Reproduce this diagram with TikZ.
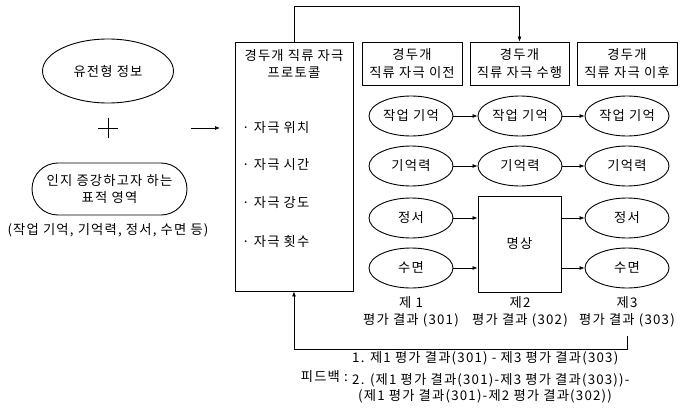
\documentclass[tikz,border=0pt]{standalone}
\usepackage{fontspec}
\setmainfont[LetterSpace=9]{Noto Sans CJK KR}
\usetikzlibrary{shapes.geometric,arrows.meta}
\begin{document}
\begin{tikzpicture}[x=1pt,y=-1pt,
  every node/.style={font=\fontsize{13.3}{17.5}\selectfont, inner sep=0pt},
  shp/.style={draw, line width=0.9pt},
  oval/.style={shp, ellipse, minimum width=84, minimum height=40},
  hbox/.style={shp, rectangle, minimum height=43, align=center},
  conn/.style={line width=0.7pt},
  arr/.style={conn, -{Latex[length=5pt,width=4pt]}},
  lab/.style={align=center}]
\useasboundingbox (0,0) rectangle (682,415);
% left part
\node[shp, ellipse, minimum width=131, minimum height=64] (gene) at (108,71) {유전형 정보};
\draw[line width=0.8pt] (98,128) -- (118,128) (108,118) -- (108,138);
\node[shp, rectangle, rounded corners=26, minimum width=155, minimum height=52, align=center] (target) at (109.5,189) {인지 증강하고자 하는\\표적 영역};
\node (targetsub) at (108,230) {(작업 기억, 기억력, 정서, 수면 등)};
\coordinate (a0) at (191,128);
\coordinate (a1) at (220,128);
\draw[arr] (a0) -- (a1);
% protocol box
\node[shp, rectangle, minimum width=118, minimum height=249] (proto) at (294,166.5) {};
\node[align=center] (ptitle) at (294,64) {경두개 직류 자극\\프로토콜};
\node[anchor=west] (p1) at (242,128) {· 자극 위치};
\node[anchor=west] (p2) at (242,165) {· 자극 시간};
\node[anchor=west] (p3) at (242,203) {· 자극 강도};
\node[anchor=west] (p4) at (242,241) {· 자극 횟수};
% headers
\node[hbox, minimum width=100] (h1) at (412,63.5) {경두개\\직류 자극 이전};
\node[hbox, minimum width=99] (h2) at (519.5,63.5) {경두개\\직류 자극 수행};
\node[hbox, minimum width=100] (h3) at (627,63.5) {경두개\\직류 자극 이후};
% ovals
\node[oval] (a1e) at (411,116) {작업 기억};
\node[oval] (b1e) at (520,116) {작업 기억};
\node[oval] (c1e) at (627,116) {작업 기억};
\node[oval] (a2e) at (411,166) {기억력};
\node[oval] (b2e) at (520,166) {기억력};
\node[oval] (c2e) at (627,166) {기억력};
\node[oval] (a3e) at (411,218) {정서};
\node[oval] (c3e) at (627,218) {정서};
\node[oval] (a4e) at (411,268) {수면};
\node[oval] (c4e) at (627,268) {수면};
\node[shp, rectangle, minimum width=83, minimum height=96] (med) at (519.5,244) {명상};
% arrows
\draw[arr] (a1e) -- (b1e);
\draw[arr] (b1e) -- (c1e);
\draw[arr] (a2e) -- (b2e);
\draw[arr] (b2e) -- (c2e);
\draw[arr] (a3e.east) -- (med.west |- a3e.east);
\draw[arr] (med.east |- c3e.west) -- (c3e.west);
\draw[arr] (a4e.east) -- (med.west |- a4e.east);
\draw[arr] (med.east |- c4e.west) -- (c4e.west);
% labels
\node[lab] (lab1) at (411,312) {제 1\\평가 결과 (301)};
\node[lab] (lab2) at (520,312) {제2\\평가 결과 (302)};
\node[lab] (lab3) at (627,312) {제3\\평가 결과 (303)};
% top connector
\draw[arr] (proto.north) -- ++(0,-35) -| (h2.north);
% feedback connector
\draw[arr] ([yshift=-8pt]lab3.south) -- ++(0,14) -| (proto.south);
% feedback text
\node[anchor=east] (fbl) at (348,377) {피드백 :};
\node[anchor=west] (fb1) at (352,358) {1. 제1 평가 결과(301) - 제3 평가 결과(303)};
\node[anchor=west] (fb2) at (352,380) {2. (제1 평가 결과(301)-제3 평가 결과(303))-};
\node[anchor=west] (fb3) at (358,396) {(제1 평가 결과(301)-제2 평가 결과(302))};
\end{tikzpicture}
\end{document}
